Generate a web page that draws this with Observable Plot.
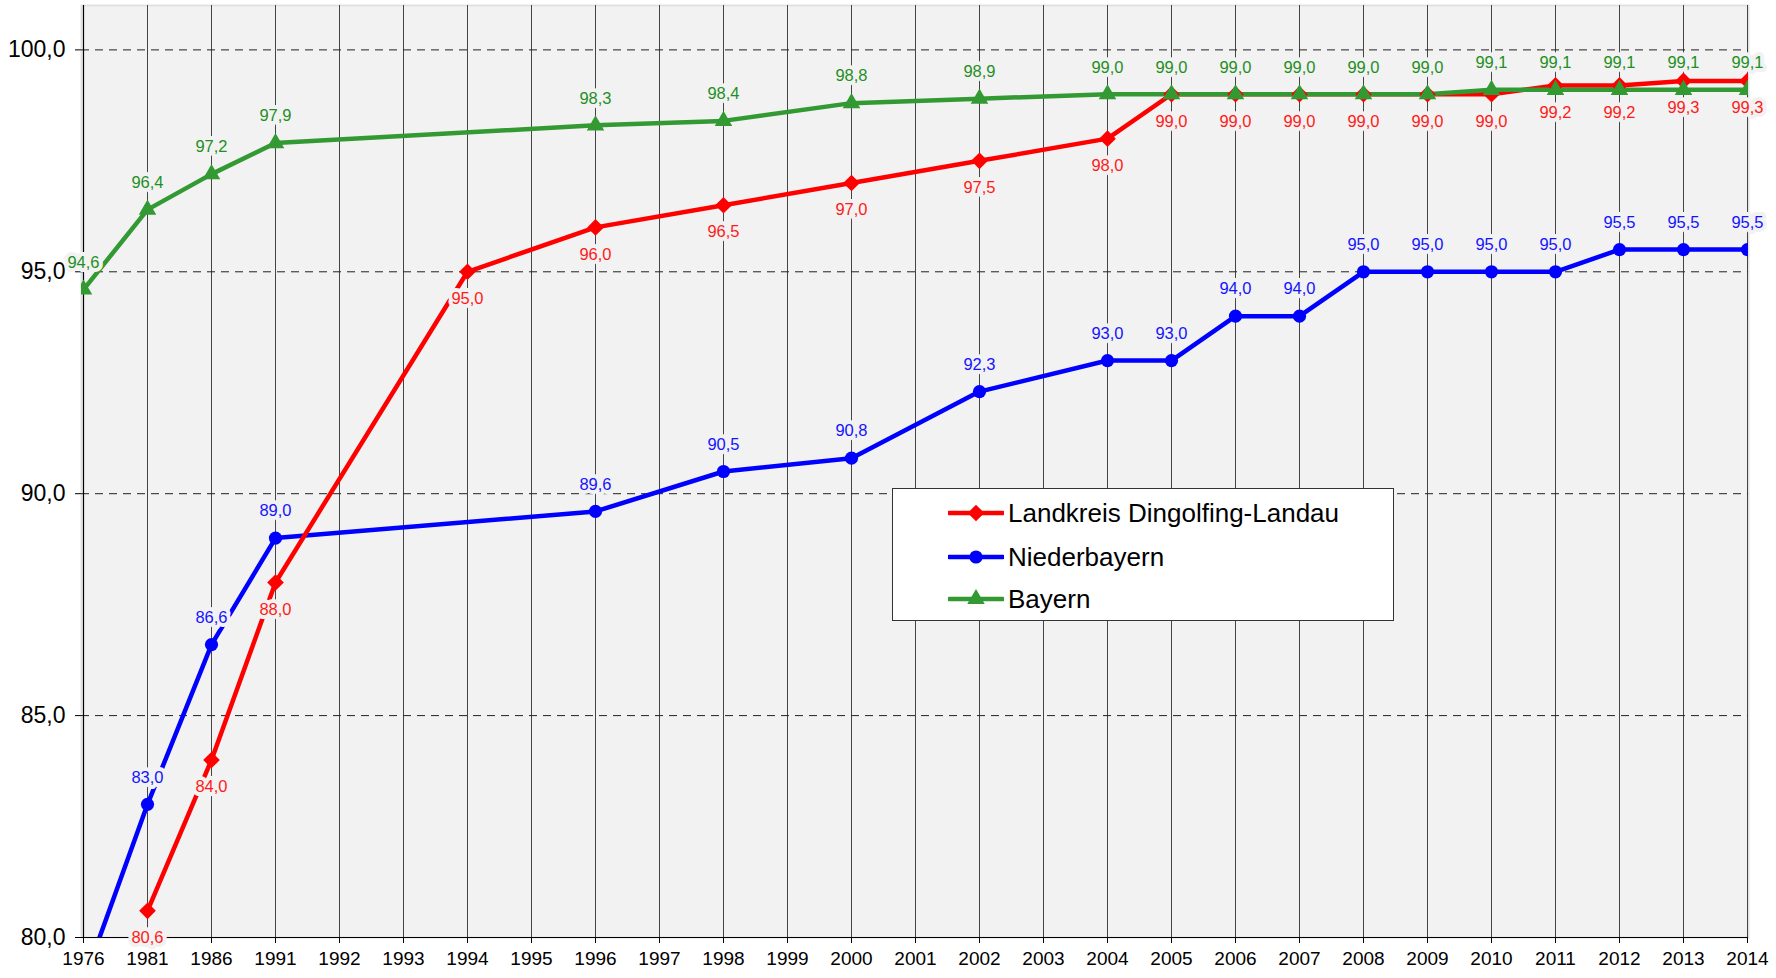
<!DOCTYPE html>
<html>
<head>
<meta charset="utf-8">
<script src="https://cdn.jsdelivr.net/npm/d3@7"></script>
<script src="https://cdn.jsdelivr.net/npm/@observablehq/plot@0.6"></script>
<style>
  html, body { margin: 0; padding: 0; background: #fff; }
  #wrap { position: relative; width: 1776px; height: 978px; font-family: "Liberation Sans", Arial, sans-serif; }
  #legend { position: absolute; left: 892px; top: 488px; width: 502px; height: 133px; background: #fff; border: 1.5px solid #333; box-sizing: border-box; }
  .row { position: absolute; left: 55px; height: 30px; display: flex; align-items: center; font-size: 26px; color: #000; }
  .row svg { margin-right: 4px; }
</style>
</head>
<body>
<div id="wrap"></div>
<script>
// Categories (x axis)
const years = ["1976","1981","1986","1991","1992","1993","1994","1995","1996","1997","1998","1999","2000","2001","2002","2003","2004","2005","2006","2007","2008","2009","2010","2011","2012","2013","2014"];
const yTicks = [80, 85, 90, 95, 100];

// Landkreis Dingolfing-Landau
const landkreisYears = ["1981","1986","1991","1994","1996","1998","2000","2002","2004","2005","2006","2007","2008","2009","2010","2011","2012","2013","2014"];
const landkreisValues = [80.6, 84.0, 88.0, 95.0, 96.0, 96.5, 97.0, 97.5, 98.0, 99.0, 99.0, 99.0, 99.0, 99.0, 99.0, 99.2, 99.2, 99.3, 99.3];

// Niederbayern
const niederbayernYears = ["1976","1981","1986","1991","1996","1998","2000","2002","2004","2005","2006","2007","2008","2009","2010","2011","2012","2013","2014"];
const niederbayernValues = [79.0, 83.0, 86.6, 89.0, 89.6, 90.5, 90.8, 92.3, 93.0, 93.0, 94.0, 94.0, 95.0, 95.0, 95.0, 95.0, 95.5, 95.5, 95.5];

// Bayern
const bayernYears = ["1976","1981","1986","1991","1996","1998","2000","2002","2004","2005","2006","2007","2008","2009","2010","2011","2012","2013","2014"];
const bayernValues = [94.6, 96.4, 97.2, 97.9, 98.3, 98.4, 98.8, 98.9, 99.0, 99.0, 99.0, 99.0, 99.0, 99.0, 99.1, 99.1, 99.1, 99.1, 99.1];

const seriesNames = ["Landkreis Dingolfing-Landau", "Niederbayern", "Bayern"];
const lineColors = ["#ff0000", "#0000ff", "#339933"];
const labelColors = ["#ff1a1a", "#1414ff", "#1f8f1f"];
const symbols = ["diamond2", "circle", "triangle"];
const dotR = [7.5, 6.6, 6.5];
const labelDy = [27, -27, -27];

const toRows = (ys, vs, s) => ys.map((year, i) => ({year, value: vs[i], series: s}));
const seriesRows = [
  toRows(landkreisYears, landkreisValues, 0),
  toRows(niederbayernYears, niederbayernValues, 1),
  toRows(bayernYears, bayernValues, 2)
];

const fmt = v => v.toFixed(1).replace(".", ",");

const marks = [
  Plot.frame({fill: "#f2f2f2", stroke: "#e2e2e2", strokeWidth: 2}),
  Plot.ruleX(years, {stroke: "#444", strokeWidth: 1}),
  Plot.ruleY(yTicks.filter(d => d > 80), {stroke: "#222", strokeWidth: 1, strokeDasharray: "8,6"}),
  Plot.axisY({ticks: yTicks, tickFormat: fmt, tickSize: 6, fontSize: 23, tickPadding: 10, stroke: "#000", label: null}),
  Plot.axisX({ticks: years, tickSize: 6, fontSize: 19, tickPadding: 8, stroke: "#000", label: null}),
  Plot.ruleX([years[0]], {stroke: "#000", strokeWidth: 1.2}),
  Plot.ruleY([80], {stroke: "#000", strokeWidth: 1.2})
];

// draw order: Niederbayern, Landkreis, Bayern lines
[1, 0, 2].forEach(s => {
  marks.push(Plot.line(seriesRows[s], {x: "year", y: "value", stroke: lineColors[s], strokeWidth: 4.5, clip: true}));
});
[1, 0, 2].forEach(s => {
  marks.push(Plot.dot(seriesRows[s], {x: "year", y: "value", fill: lineColors[s], r: dotR[s], symbol: symbols[s], clip: true}));
});
[1, 0, 2].forEach(s => {
  marks.push(Plot.text(seriesRows[s].filter(d => d.value >= 80), {
    x: "year", y: "value", text: d => fmt(d.value), dy: labelDy[s],
    fill: labelColors[s], fontSize: 16.5, stroke: "#f2f2f2", strokeWidth: 8, paintOrder: "stroke"
  }));
});

const chart = Plot.plot({
  width: 1776,
  height: 978,
  marginLeft: 81,
  marginRight: 28,
  marginTop: 5,
  marginBottom: 41,
  style: {fontFamily: "'Liberation Sans', Arial, sans-serif", background: "#fff", color: "#000"},
  x: {type: "point", domain: years, padding: 0, axis: null},
  y: {domain: [80, 101], axis: null},
  marks
});

const wrap = document.getElementById("wrap");
wrap.appendChild(chart);

// Legend inside plot area
const legend = document.createElement("div");
legend.id = "legend";
const rowTops = [9, 53, 95];
seriesNames.forEach((name, i) => {
  const row = document.createElement("div");
  row.className = "row";
  row.style.top = rowTops[i] + "px";
  const sym = d3.symbol(i === 0 ? d3.symbolDiamond2 : i === 1 ? d3.symbolCircle : d3.symbolTriangle, Math.PI * dotR[i] * dotR[i])();
  row.innerHTML = `<svg width="56" height="30"><line x1="1" x2="55" y1="15" y2="15" stroke="${lineColors[i]}" stroke-width="4.5" stroke-linecap="round"/><path d="${sym}" transform="translate(28,15)" fill="${lineColors[i]}"/></svg><span>${name}</span>`;
  legend.appendChild(row);
});
wrap.appendChild(legend);
</script>
</body>
</html>
